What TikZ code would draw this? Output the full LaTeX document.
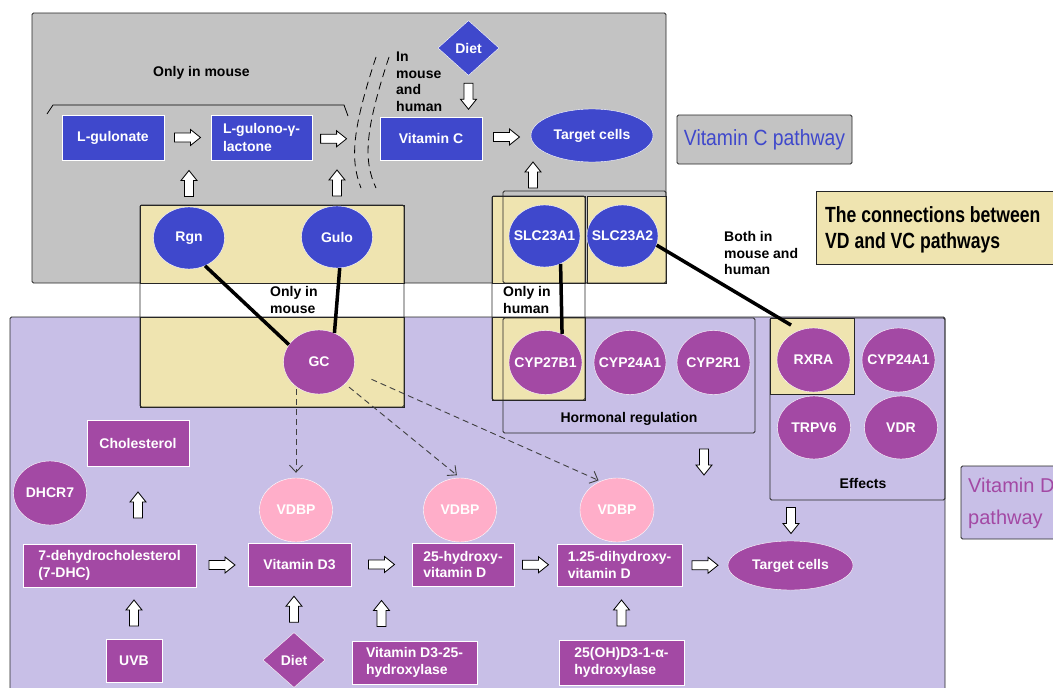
\documentclass[tikz,border=0pt]{standalone}
\usepackage{fontspec}
\setmainfont{Liberation Sans}
\usetikzlibrary{arrows.meta,positioning,shapes.geometric,calc}
\definecolor{vcBlue}{HTML}{3F48CC}
\definecolor{vdPurple}{HTML}{A349A4}
\definecolor{vdLilac}{HTML}{C8BFE7}
\definecolor{vcGray}{HTML}{C3C3C3}
\definecolor{bothTan}{HTML}{EFE4B0}
\definecolor{vdbpPink}{HTML}{FFAEC9}
\newcommand{\zw}[1]{\hbox to 0pt{\hss#1\hss}}

\begin{document}
\begin{tikzpicture}[x=1pt,y=-1pt,
  font=\fontsize{14}{16.5}\selectfont\bfseries,
  vcRect/.style={rectangle,fill=vcBlue,draw=white,thin,text=white,inner sep=0pt,align=left},
  vdRect/.style={vcRect,fill=vdPurple},
  vcOval/.style={ellipse,fill=vcBlue,draw=white,thin,text=white,inner sep=0pt,minimum width=71pt,minimum height=62pt},
  vdOval/.style={vcOval,fill=vdPurple,minimum width=73pt,minimum height=64pt},
  vdbpOval/.style={vdOval,fill=vdbpPink},
  dietBox/.style={diamond,draw=white,thin,text=white,inner sep=0pt,minimum width=61pt,minimum height=55pt},
  grpBox/.style={draw=black!85,line width=0.8pt,rounded corners=1.5pt},
  tanPart/.style={fill=bothTan,draw=black!85,line width=0.8pt},
  note/.style={inner sep=0pt,align=left,anchor=west},
  link/.style={line width=3.5pt},
  gcArrow/.style={draw=black!75,line width=0.9pt,dash pattern=on 6pt off 4pt,-{Straight Barb[length=7pt,width=13pt]}},
  fatArrow/.pic={\draw[fill=white,draw=black,line width=0.8pt,dash pattern=] (-13,-4.5) -- (3,-4.5) -- (3,-8) -- (13,0) -- (3,8) -- (3,4.5) -- (-13,4.5) -- cycle;}]
  \useasboundingbox (0,0) rectangle (1053,688);
  \clip (0,0) rectangle (1053,688);
  % ---- regions ----
  \draw[grpBox,fill=vcGray] (32,13) rectangle (666,283);
  \draw[grpBox,fill=vdLilac] (10,317) rectangle (945,710);
  \draw[tanPart] (140,205) rectangle (404,283);
  \draw[tanPart] (140,317) rectangle (404,407);
  \draw[tanPart] (492,196) rectangle (585,283);
  \draw[tanPart] (492,317) rectangle (585,400);
  \draw[tanPart] (587,196) rectangle (666,283);
  \draw[tanPart] (770,318) rectangle (854,394);
  \draw[grpBox] (140,205) rectangle (404,407);
  \draw[grpBox] (492,196) rectangle (585,400);
  \draw[grpBox] (503,191) rectangle (666,283);
  \draw[grpBox] (503,318) rectangle (755,433);
  \draw[grpBox] (770,318) rectangle (945,500);
  % ---- legend boxes ----
  \node[grpBox,fill=vcGray,minimum width=175pt,minimum height=49pt,inner sep=0pt,text=vcBlue,font=\fontsize{22}{26}\selectfont] (vcLabel) at (764.5,139.5) {\scalebox{0.88}[1]{Vitamin C pathway}};
  \draw[tanPart] (816,191) rectangle (1070,264);
  \node[note,font=\fontsize{22}{26}\selectfont\bfseries] (linkLabel) at (825,230) {\scalebox{0.8}[1]{The connections between}\\\scalebox{0.8}[1]{VD and VC pathways}};
  \draw[grpBox,fill=vdLilac] (961,466) rectangle (1070,539);
  \node[note,text=vdPurple,font=\fontsize{20}{32}\selectfont] (vdLabel) at (968,503) {Vitamin D\\pathway};
  % ---- Vitamin C pathway ----
  \node[note] (onlyMouseTop) at (153,73) {Only in mouse};
  \draw[line width=0.8pt] (47,114) -- (53,105) -- (344,105) -- (348,116);
  \node[vcRect,minimum width=102pt,minimum height=45pt] (lGulonate) at (113,137.5) {L-gulonate};
  \node[vcRect,minimum width=101pt,minimum height=45pt] (lGulono) at (261.5,137.5) {L-gulono-γ-\\[2pt]lactone};
  \coordinate (speciesLine) at (355,140);
  \draw[dash pattern=on 8pt off 5pt,line width=0.8pt] (376,57) .. controls (352,130) and (350,160) .. (361,188);
  \draw[dash pattern=on 8pt off 5pt,line width=0.8pt] (389,57) .. controls (365,130) and (363,160) .. (376,188);
  \node[note] (mouseHuman) at (396,82) {In\\mouse\\and\\human};
  \node[vcRect,minimum width=102pt,minimum height=43pt] (vitC) at (431,138.5) {Vitamin C};
  \node[dietBox,fill=vcBlue] (vcDiet) at (468.5,48) {Diet};
  \node[vcOval,minimum width=122pt,minimum height=53pt] (vcTarget) at (592,135.5) {\zw{Target cells}};
  \node[vcOval] (rgn) at (189,238) {\zw{Rgn}};
  \node[vcOval] (gulo) at (337,237) {\zw{Gulo}};
  \node[vcOval] (slcA1) at (544.5,236) {\zw{SLC23A1}};
  \node[vcOval] (slcA2) at (622.5,236) {\zw{SLC23A2}};
  \pic at ($(lGulonate.east)!0.5!(lGulono.west)$) {fatArrow};
  \pic at ($(lGulono.east)!0.5!(speciesLine)$) {fatArrow};
  \pic at ($(vitC.east)!0.5!(vcTarget.west)$) {fatArrow};
  \pic[rotate=-90] at ($(vcDiet.south)!0.5!(vitC.north -| vcDiet.south)$) {fatArrow};
  \pic[rotate=90] at ($(rgn.north)!0.5!(rgn.north |- lGulonate.south)$) {fatArrow};
  \pic[rotate=90] at ($(gulo.north)!0.5!(gulo.north |- lGulono.south)$) {fatArrow};
  \pic[rotate=90] at (533,175) {fatArrow};
  % ---- notes ----
  \node[note] (onlyMouse) at (270,300) {Only in\\mouse};
  \node[note] (onlyHuman) at (503,300) {Only in\\human};
  \node[note] (bothIn) at (724,253) {Both in\\mouse and\\human};
  % ---- Vitamin D pathway ----
  \node[vdOval,minimum width=71pt] (gc) at (319,362) {\zw{GC}};
  \node[vdOval] (cyp27b1) at (545.5,362.5) {\zw{CYP27B1}};
  \node[vdOval,minimum width=72pt] (cyp24a1) at (630,362.5) {\zw{CYP24A1}};
  \node[vdOval] (cyp2r1) at (713.5,362.5) {\zw{CYP2R1}};
  \node[note,anchor=center] (hormonal) at (629,419) {Hormonal regulation};
  \node[vdOval] (rxra) at (813.5,360) {\zw{RXRA}};
  \node[vdOval] (cyp24a1e) at (898.5,360) {\zw{CYP24A1}};
  \node[vdOval,minimum height=63pt] (trpv6) at (814,427.5) {\zw{TRPV6}};
  \node[vdOval,minimum height=63pt] (vdr) at (901,427.5) {\zw{VDR}};
  \node[note,anchor=center] (effects) at (863,483) {Effects};
  \node[vdRect,minimum width=102pt,minimum height=46pt] (cholesterol) at (138,443) {Cholesterol};
  \node[vdOval] (dhcr7) at (50,493) {\zw{DHCR7}};
  \node[vdRect,minimum width=173pt,minimum height=43pt] (dhc) at (109.5,565.5) {7-dehydrocholesterol\\(7-DHC)};
  \node[vdRect,minimum width=103pt,minimum height=43pt] (vitD3) at (299.5,564.5) {Vitamin D3};
  \node[vdRect,minimum width=102pt,minimum height=43pt] (hydroxyD) at (463,564.5) {25-hydroxy-\\vitamin D};
  \node[vdRect,minimum width=125pt,minimum height=42pt] (dihydroxyD) at (619.5,565) {1.25-dihydroxy-\\vitamin D};
  \node[vdOval,minimum width=125pt,minimum height=49pt] (vdTarget) at (790.5,565.5) {\zw{Target cells}};
  \node[vdbpOval] (vdbpA) at (296,510) {\zw{VDBP}};
  \node[vdbpOval] (vdbpB) at (460,510) {\zw{VDBP}};
  \node[vdbpOval,minimum width=74pt] (vdbpC) at (617,510) {\zw{VDBP}};
  \node[vdRect,minimum width=56pt,minimum height=43pt] (uvb) at (134,660.5) {UVB};
  \node[dietBox,fill=vdPurple,minimum width=62pt] (vdDiet) at (294,660) {Diet};
  \node[vdRect,minimum width=125pt,minimum height=43pt] (d3Hydroxylase) at (414.5,662.5) {Vitamin D3-25-\\hydroxylase};
  \node[vdRect,minimum width=125pt,minimum height=45pt] (ohHydroxylase) at (621.5,662.5) {25(OH)D3-1-α-\\hydroxylase};
  \coordinate (rxnB) at ($(vitD3.east)!0.5!(hydroxyD.west)$);
  \pic at ($(dhc.east)!0.5!(vitD3.west)$) {fatArrow};
  \pic at (rxnB) {fatArrow};
  \pic at ($(hydroxyD.east)!0.5!(dihydroxyD.west)$) {fatArrow};
  \pic at ($(dihydroxyD.east)!0.5!(vdTarget.west)$) {fatArrow};
  \pic[rotate=90] at ($(cholesterol.south)!0.5!(cholesterol.south |- dhc.north)$) {fatArrow};
  \pic[rotate=90] at ($(uvb.north)!0.5!(uvb.north |- dhc.south)$) {fatArrow};
  \pic[rotate=90] at ($(vdDiet.north)!0.5!(vdDiet.north |- vitD3.south)$) {fatArrow};
  \pic[rotate=90] at ($(rxnB |- vitD3.south)!0.5!(rxnB |- d3Hydroxylase.north)$) {fatArrow};
  \pic[rotate=90] at ($(ohHydroxylase.north)!0.5!(ohHydroxylase.north |- dihydroxyD.south)$) {fatArrow};
  \pic[rotate=-90] at (704,462) {fatArrow};
  \pic[rotate=-90] at (791,520.5) {fatArrow};
  % ---- connections ----
  \draw[link] (rgn.-60) -- (gc.150);
  \draw[link] (gulo.-85) -- (gc.62);
  \draw[link] (slcA1.-60) -- (cyp27b1.60);
  \draw[link,shorten >=10pt] (slcA2.-15) -- (rxra.115);
  \draw[gcArrow,shorten >=5pt] ([yshift=5pt]gc.south -| vdbpA.north) -- (vdbpA.north);
  \draw[gcArrow,shorten <=5pt,shorten >=4pt] (gc.-40) -- (vdbpB.north);
  \draw[gcArrow,shorten <=20pt,shorten >=2pt] (gc.-15) -- (vdbpC.120);
\end{tikzpicture}
\end{document}
